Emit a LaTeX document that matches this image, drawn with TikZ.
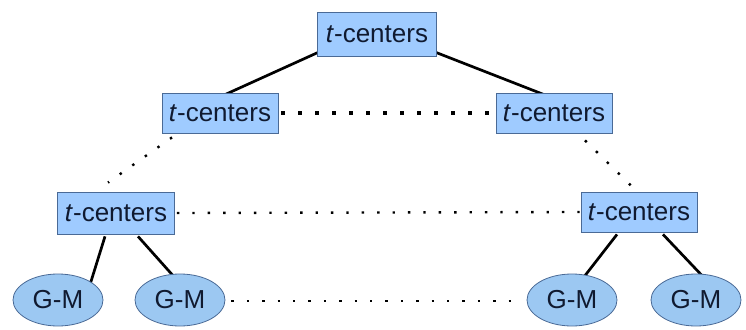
\documentclass[tikz,border=0pt]{standalone}
\usepackage{fontspec}
\setmainfont{Liberation Sans}
\definecolor{boxfill}{HTML}{9FCBFF}
\definecolor{boxline}{HTML}{4A6A96}
\definecolor{ellfill}{HTML}{9CC8F2}
\definecolor{txt}{HTML}{101A30}
\usetikzlibrary{shapes.geometric,backgrounds}
\begin{document}
\begin{tikzpicture}[x=1pt,y=-1pt,
  tbox/.style={draw=boxline,line width=0.8pt,fill=boxfill,text=txt,minimum width=116pt,minimum height=40pt,inner sep=0pt,font=\fontsize{26}{30}\selectfont},
  gm/.style={ellipse,draw=boxline,line width=0.8pt,fill=ellfill,text=txt,minimum width=90pt,minimum height=52pt,inner sep=0pt,font=\fontsize{26}{30}\selectfont},
  solidline/.style={line width=2.7pt,black},
  bigdots/.style={line width=3.5pt,dash pattern=on 3.5pt off 13.5pt,black},
  smalldots/.style={line width=2.4pt,dash pattern=on 2.4pt off 13pt,black}]
\useasboundingbox (0,0) rectangle (746,329);
\node[tbox,minimum width=119pt,minimum height=44pt] (top) at (377,34) {\textit{t}-centers};
\node[tbox] (l2L) at (220,113) {\textit{t}-centers};
\node[tbox] (l2R) at (554,113) {\textit{t}-centers};
\node[tbox,minimum width=117pt,minimum height=42pt] (l3L) at (116,213) {\textit{t}-centers};
\node[tbox] (l3R) at (639,212) {\textit{t}-centers};
\node[gm] (g1) at (58,300) {G-M};
\node[gm] (g2) at (180,300) {G-M};
\node[gm] (g3) at (572,300) {G-M};
\node[gm] (g4) at (696,300) {G-M};
\begin{scope}[on background layer]
\draw[solidline] ([xshift=1pt,yshift=4pt]top.south west) -- ([xshift=5pt,yshift=-2pt]l2L.north);
\draw[solidline] ([xshift=-1pt,yshift=4pt]top.south east) -- ([xshift=-10pt,yshift=-2pt]l2R.north);
\draw[bigdots] ([xshift=3pt]l2L.east) -- (l2R.west);
\draw[smalldots] ([xshift=-48pt,yshift=-4pt]l2L.south) -- ([xshift=-8pt,yshift=9pt]l3L.north);
\draw[smalldots] ([xshift=31pt,yshift=-7pt]l2R.south) -- ([xshift=-8pt,yshift=6pt]l3R.north);
\draw[smalldots] ([xshift=2pt]l3L.east) -- (l3R.west);
\draw[smalldots] ([xshift=6pt,yshift=-1pt]g2.east) -- ([xshift=-4pt,yshift=-1pt]g3.west);
\draw[solidline] ([xshift=-11pt,yshift=-2pt]l3L.south) -- ([yshift=-3pt]g1.north east);
\draw[solidline] ([xshift=22pt,yshift=-2pt]l3L.south) -- ([xshift=-7pt,yshift=-2pt]g2.north);
\draw[solidline] ([xshift=-22pt,yshift=-2pt]l3R.south) -- ([xshift=13pt,yshift=-2pt]g3.north);
\draw[solidline] ([xshift=24pt,yshift=-2pt]l3R.south) -- ([xshift=7pt,yshift=-3pt]g4.north);
\end{scope}
\end{tikzpicture}
\end{document}
